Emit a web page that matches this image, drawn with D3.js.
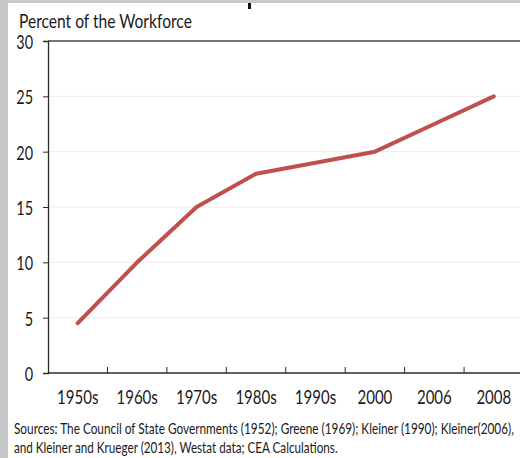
<!DOCTYPE html>
<html>
<head>
<meta charset="utf-8">
<script src="https://cdn.jsdelivr.net/npm/d3@7"></script>
<style>
  html, body { margin: 0; padding: 0; background: #ffffff; }
  svg { display: block; }
  text { font-family: Lato, "Open Sans", sans-serif; fill: #1a1a1a; }
</style>
</head>
<body>
<svg id="chart" width="520" height="458"></svg>
<script>
// ---- data ----
const categories = ["1950s", "1960s", "1970s", "1980s", "1990s", "2000", "2006", "2008"];
const percentValues = [4.5, 10, 15, 18, 19, 20, 22.5, 25];
const yTicks = [0, 5, 10, 15, 20, 25, 30];
const titleText = "Percent of the Workforce";
const sourceLines = [
  "Sources: The Council of State Governments (1952); Greene (1969); Kleiner (1990); Kleiner(2006),",
  "and Kleiner and Krueger (2013), Westat data; CEA Calculations."
];

// ---- layout ----
const W = 520, H = 458;
const plot = { left: 48, right: 523.5, top: 41, bottom: 373 };
const svg = d3.select("#chart");

// background frame (gray edges of the original)
svg.append("rect").attr("x", 0).attr("y", 0).attr("width", W).attr("height", H).attr("fill", "#ffffff");
svg.append("rect").attr("x", 0).attr("y", 0).attr("width", 8).attr("height", H).attr("fill", "#c8c8c8");
svg.append("rect").attr("x", 0).attr("y", 0).attr("width", W).attr("height", 3).attr("fill", "#c8c8c8");
svg.append("rect").attr("x", 248).attr("y", 3).attr("width", 3).attr("height", 6).attr("fill", "#111");

const x = d3.scaleBand().domain(categories).range([plot.left, plot.right]).padding(0);
const y = d3.scaleLinear().domain([0, 30]).range([plot.bottom, plot.top]);

// gridlines
svg.append("g").selectAll("line").data(yTicks.filter(t => t > 0 && t < 30)).join("line")
  .attr("x1", plot.left).attr("x2", W)
  .attr("y1", d => y(d)).attr("y2", d => y(d))
  .attr("stroke", "#ebebeb").attr("stroke-width", 1);

// top border line
svg.append("line").attr("x1", plot.left).attr("x2", W)
  .attr("y1", y(30)).attr("y2", y(30))
  .attr("stroke", "#4a4a4a").attr("stroke-width", 1.5);

// y axis (ticks and domain from d3.axisLeft, labels placed separately for compression)
const yAxis = svg.append("g").attr("transform", `translate(${plot.left},0)`)
  .call(d3.axisLeft(y).tickValues(yTicks).tickSize(5).tickFormat(""));
yAxis.select(".domain").attr("stroke", "#2a2a2a").attr("stroke-width", 1.3);
yAxis.selectAll(".tick line").attr("stroke", "#2a2a2a");

// narrow-face text helper: place via transform with horizontal scale
function narrowText(parent, txt, px, py, size, anchor, sx) {
  const t = parent.append("text").attr("font-size", size).attr("text-anchor", anchor).text(txt);
  t.attr("transform", `translate(${px},${py}) scale(${sx},1)`);
  return t;
}
function fitText(parent, txt, px, py, size, width) {
  const t = parent.append("text").attr("font-size", size).text(txt);
  const L = t.node().getComputedTextLength();
  t.attr("transform", `translate(${px},${py}) scale(${width / L},1)`);
  return t;
}

const yLab = svg.append("g");
yTicks.forEach(v => narrowText(yLab, String(v), 33, y(v) + 8, 19, "end", 0.76));

// x axis (ticks at category boundaries, pointing up)
const xAxisG = svg.append("g").attr("transform", `translate(0,${plot.bottom})`);
xAxisG.append("line").attr("x1", plot.left).attr("x2", W).attr("y1", 0).attr("y2", 0)
  .attr("stroke", "#2a2a2a").attr("stroke-width", 1.3);
xAxisG.selectAll("line.tk").data(categories.slice(1)).join("line").attr("class", "tk")
  .attr("x1", d => x(d)).attr("x2", d => x(d)).attr("y1", 0).attr("y2", -6)
  .attr("stroke", "#2a2a2a").attr("stroke-width", 1);
categories.forEach(c => narrowText(xAxisG, c, x(c) + x.bandwidth() / 2, 31, 19.5, "middle", 0.77));

// line
const line = d3.line()
  .x((d, i) => x(categories[i]) + x.bandwidth() / 2)
  .y(d => y(d));
svg.append("path").datum(percentValues)
  .attr("d", line).attr("fill", "none")
  .attr("stroke", "#c0504d").attr("stroke-width", 4)
  .attr("stroke-linecap", "round").attr("stroke-linejoin", "round");

// title
fitText(svg, titleText, 19, 28, 18.5, 173);

// sources
sourceLines.forEach((s, i) => fitText(svg, s, 14, 434 + i * 19, 14.5, i === 0 ? 500 : 324));
</script>
</body>
</html>
